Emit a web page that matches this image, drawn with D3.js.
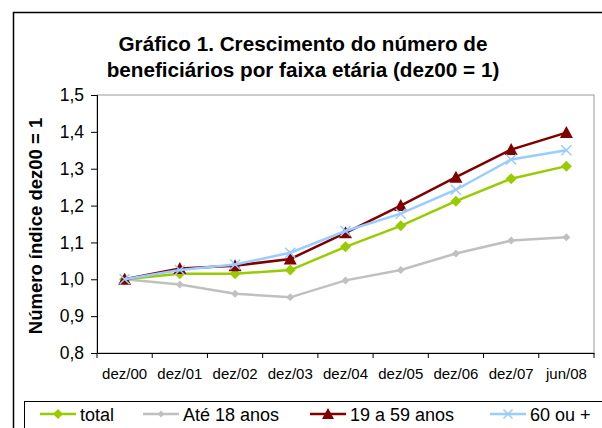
<!DOCTYPE html>
<html>
<head>
<meta charset="utf-8">
<script src="https://cdn.jsdelivr.net/npm/d3@7"></script>
<style>
  body { margin: 0; background: #fff; }
  svg { font-family: "Liberation Sans", Arial, sans-serif; display: block; }
</style>
</head>
<body>
<div id="container"></div>
<script>
"use strict";

const categories = ["dez/00", "dez/01", "dez/02", "dez/03", "dez/04", "dez/05", "dez/06", "dez/07", "jun/08"];
const total = [1.0, 1.015, 1.015, 1.025, 1.088, 1.145, 1.212, 1.273, 1.307];
const ate18 = [1.0, 0.986, 0.961, 0.951, 0.997, 1.025, 1.07, 1.105, 1.114];
const de19a59 = [1.0, 1.029, 1.037, 1.055, 1.126, 1.2, 1.277, 1.352, 1.398];
const de60 = [1.0, 1.025, 1.04, 1.072, 1.131, 1.178, 1.243, 1.325, 1.35];
const yTicks = [0.8, 0.9, 1.0, 1.1, 1.2, 1.3, 1.4, 1.5];

const series = [
  { name: "total", values: total, color: "#99CC00", marker: "diamond", size: 11, width: 2.5 },
  { name: "Até 18 anos", values: ate18, color: "#C0C0C0", marker: "diamond", size: 8, width: 2.5 },
  { name: "19 a 59 anos", values: de19a59, color: "#800000", marker: "triangle", size: 11, width: 2.5 },
  { name: "60 ou +", values: de60, color: "#99CCFF", marker: "cross", size: 10, width: 2.5 },
];

const width = 602, height = 428;
const margin = { top: 95, right: 8, bottom: 75, left: 97 };

const svg = d3.create("svg").attr("width", width).attr("height", height);

// Outer frame (cut off at right and bottom like the reference).
svg.append("rect")
  .attr("x", 13.5).attr("y", 12.5)
  .attr("width", 620).attr("height", 440)
  .attr("fill", "none").attr("stroke", "#000").attr("stroke-width", 1.5);

const x = d3.scaleBand()
  .domain(categories)
  .range([margin.left, width - margin.right]);
const y = d3.scaleLinear()
  .domain([0.8, 1.5])
  .range([height - margin.bottom, margin.top]);

// Plot area box.
svg.append("rect")
  .attr("x", margin.left).attr("y", margin.top)
  .attr("width", width - margin.right - margin.left)
  .attr("height", height - margin.bottom - margin.top)
  .attr("fill", "none").attr("stroke", "#999").attr("stroke-width", 1);

// Title.
const title = svg.append("text")
  .attr("text-anchor", "middle")
  .style("font-size", "20.7px")
  .style("font-weight", "bold");
title.append("tspan").attr("x", 303).attr("y", 51).text("Gráfico 1. Crescimento do número de");
title.append("tspan").attr("x", 303).attr("y", 77).text("beneficiários por faixa etária (dez00 = 1)");

// Y-axis title.
svg.append("text")
  .attr("transform", `translate(42, ${(margin.top + height - margin.bottom) / 2 + 2}) rotate(-90)`)
  .attr("text-anchor", "middle")
  .style("font-size", "18.5px")
  .style("font-weight", "bold")
  .text("Número índice dez00 = 1");

// Y axis.
const yAxis = svg.append("g")
  .attr("transform", `translate(${margin.left}, 0)`)
  .call(d3.axisLeft(y).tickValues(yTicks).tickSize(6).tickPadding(7)
    .tickFormat((d) => d3.format(".1f")(d).replace(".", ",")));
yAxis.selectAll("text").style("font-size", "17.5px").attr("fill", "#000");
yAxis.selectAll("line, path").attr("stroke", "#000");

// X axis, ticks on band edges.
const xAxis = svg.append("g")
  .attr("transform", `translate(0, ${height - margin.bottom})`)
  .call(d3.axisBottom(x).tickSize(0).tickPadding(15));
xAxis.selectAll("text").style("font-size", "15px").attr("fill", "#000");
xAxis.select(".domain").attr("stroke", "#000");
xAxis.selectAll(".edge")
  .data(categories.concat([null]))
  .enter()
  .append("line")
  .attr("x1", (d, i) => margin.left + i * x.bandwidth())
  .attr("x2", (d, i) => margin.left + i * x.bandwidth())
  .attr("y1", 0).attr("y2", 5)
  .attr("stroke", "#000");

function drawMarker(g, type, size, color) {
  if (type === "diamond") {
    g.append("path")
      .attr("d", `M0,${-size / 2}L${size / 2},0L0,${size / 2}L${-size / 2},0Z`)
      .attr("fill", color);
  } else if (type === "triangle") {
    g.append("path")
      .attr("d", `M0,${-size / 2 - 1}L${size / 2 + 1},${size / 2}L${-size / 2 - 1},${size / 2}Z`)
      .attr("fill", color);
  } else {
    const s = size / 2;
    g.append("path")
      .attr("d", `M${-s},${-s}L${s},${s}M${-s},${s}L${s},${-s}`)
      .attr("stroke", color).attr("stroke-width", 1.5).attr("fill", "none");
  }
}

const line = d3.line()
  .x((d, i) => x(categories[i]) + x.bandwidth() / 2)
  .y((d) => y(d));

// Draw series back-to-front so that "total" overlays the grey line.
const order = [1, 0, 2, 3];
order.forEach((k) => {
  const s = series[k];
  svg.append("path")
    .datum(s.values)
    .attr("d", line)
    .attr("fill", "none")
    .attr("stroke", s.color)
    .attr("stroke-width", s.width);
  s.values.forEach((v, i) => {
    const g = svg.append("g")
      .attr("transform", `translate(${x(categories[i]) + x.bandwidth() / 2}, ${y(v)})`);
    drawMarker(g, s.marker, s.size, s.color);
  });
});

// Legend box (cut off at right and bottom).
svg.append("rect")
  .attr("x", 24.5).attr("y", 401.5)
  .attr("width", 620).attr("height", 60)
  .attr("fill", "#fff").attr("stroke", "#000").attr("stroke-width", 1);

const legendX = [40, 143, 310, 490];
series.forEach((s, i) => {
  const g = svg.append("g").attr("transform", `translate(${legendX[i]}, 414)`);
  g.append("line").attr("x1", 0).attr("x2", 36).attr("y1", 0).attr("y2", 0)
    .attr("stroke", s.color).attr("stroke-width", s.width);
  const m = g.append("g").attr("transform", "translate(18, 0)");
  drawMarker(m, s.marker, s.size - 1, s.color);
  g.append("text")
    .attr("x", 40).attr("y", 6.5)
    .style("font-size", "18px")
    .text(s.name);
});

d3.select("#container").append(() => svg.node());
</script>
</body>
</html>
